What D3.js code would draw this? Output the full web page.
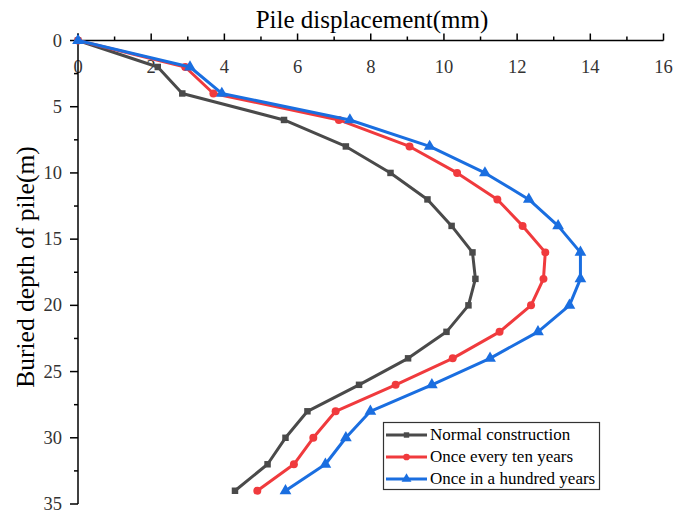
<!DOCTYPE html>
<meta charset="utf-8">
<script src="https://d3js.org/d3.v7.min.js"></script>
<style>
  body { margin: 0; background: #fff; }
  text { font-family: "Liberation Serif", "DejaVu Serif", serif; }
</style>
<body>
<div id="chart"></div>
<script>

// depths (m) and pile displacement (mm) for each case
var depths = [0, 2, 4, 6, 8, 10, 12, 14, 16, 18, 20, 22, 24, 26, 28, 30, 32, 34];
var normalVals = [0, 2.18, 2.85, 5.63, 7.32, 8.54, 9.55, 10.21, 10.78, 10.86, 10.67, 10.07, 9.02, 7.68, 6.27, 5.67, 5.18, 4.29];
var tenYearVals = [0, 2.93, 3.70, 7.13, 9.06, 10.36, 11.46, 12.15, 12.77, 12.72, 12.38, 11.52, 10.24, 8.68, 7.04, 6.43, 5.90, 4.90];
var hundredYearVals = [0, 3.06, 3.93, 7.43, 9.61, 11.12, 12.32, 13.12, 13.73, 13.73, 13.43, 12.57, 11.26, 9.67, 7.99, 7.32, 6.76, 5.67];
var seriesNames = ["Normal construction", "Once every ten years", "Once in a hundred years"];
var xTicks = [0, 2, 4, 6, 8, 10, 12, 14, 16];
var yTicks = [0, 5, 10, 15, 20, 25, 30, 35];

var colors = ["#4a4a4a", "#f03a3d", "#1a6ee0"];
var markers = [d3.symbolSquare, d3.symbolCircle, d3.symbolTriangle];
var markerSize = [42, 50, 60];

var W = 673, H = 513;
var x = d3.scaleLinear().domain([0, 16]).range([78, 663.5]);
var y = d3.scaleLinear().domain([0, 35]).range([40.5, 504]);

var svg = d3.select("#chart").append("svg")
  .attr("width", W).attr("height", H);

// x axis on top, ticks pointing up, labels below the line
var xAxisG = svg.append("g").attr("transform", "translate(0," + y(0) + ")");
xAxisG.append("line").attr("x1", x(0)).attr("x2", x(16))
  .attr("stroke", "#000").attr("stroke-width", 1.5);
xAxisG.selectAll(".xmaj").data(xTicks).enter().append("line")
  .attr("x1", d => x(d)).attr("x2", d => x(d))
  .attr("y1", 0).attr("y2", -7).attr("stroke", "#000").attr("stroke-width", 1.5);
xAxisG.selectAll(".xmin").data(d3.range(1, 16, 2)).enter().append("line")
  .attr("x1", d => x(d)).attr("x2", d => x(d))
  .attr("y1", 0).attr("y2", -4).attr("stroke", "#000").attr("stroke-width", 1.5);
xAxisG.selectAll(".xlab").data(xTicks).enter().append("text")
  .attr("x", d => x(d)).attr("y", 32)
  .attr("text-anchor", "middle")
  .style("font-size", "18.5px").style("fill", "#333")
  .text(d => d);

// y axis, ticks pointing left
var yAxisG = svg.append("g").attr("transform", "translate(" + x(0) + ",0)");
yAxisG.append("line").attr("y1", y(0) - 7).attr("y2", y(35))
  .attr("stroke", "#000").attr("stroke-width", 1.5);
yAxisG.selectAll(".ymaj").data(yTicks).enter().append("line")
  .attr("y1", d => y(d)).attr("y2", d => y(d))
  .attr("x1", 0).attr("x2", -8).attr("stroke", "#000").attr("stroke-width", 1.5);
yAxisG.selectAll(".ymin").data(d3.range(2.5, 35, 5)).enter().append("line")
  .attr("y1", d => y(d)).attr("y2", d => y(d))
  .attr("x1", 0).attr("x2", -4).attr("stroke", "#000").attr("stroke-width", 1.5);
yAxisG.selectAll(".ylab").data(yTicks).enter().append("text")
  .attr("x", -16).attr("y", d => y(d) + 6)
  .attr("text-anchor", "end")
  .style("font-size", "18.5px").style("fill", "#333")
  .text(d => d);

// axis titles
svg.append("text")
  .attr("x", 372).attr("y", 28)
  .attr("text-anchor", "middle")
  .style("font-size", "25px")
  .text("Pile displacement(mm)");

svg.append("text")
  .attr("transform", "translate(34," + 267 + ") rotate(-90)")
  .attr("text-anchor", "middle")
  .style("font-size", "25.5px")
  .text("Buried depth of pile(m)");

// series
var allVals = [normalVals, tenYearVals, hundredYearVals];
var line = d3.line().x(d => x(d[0])).y(d => y(d[1]));

allVals.forEach(function(vals, i) {
  var pts = depths.map((dp, k) => [vals[k], dp]);
  svg.append("path")
    .datum(pts)
    .attr("d", line)
    .attr("fill", "none")
    .attr("stroke", colors[i])
    .attr("stroke-width", 3)
    .attr("stroke-linejoin", "round");
  svg.selectAll(".m" + i).data(pts).enter().append("path")
    .attr("transform", d => "translate(" + x(d[0]) + "," + y(d[1]) + ")")
    .attr("d", d3.symbol().type(markers[i]).size(markerSize[i]))
    .attr("fill", colors[i]);
});

// legend
var lg = svg.append("g");
lg.append("rect")
  .attr("x", 383.5).attr("y", 422.5)
  .attr("width", 216).attr("height", 67)
  .attr("fill", "#fff").attr("stroke", "#333").attr("stroke-width", 1.2);
seriesNames.forEach(function(name, i) {
  var ly = 435 + i * 22;
  lg.append("line")
    .attr("x1", 386).attr("x2", 427)
    .attr("y1", ly).attr("y2", ly)
    .attr("stroke", colors[i]).attr("stroke-width", 3);
  lg.append("path")
    .attr("transform", "translate(406.5," + ly + ")")
    .attr("d", d3.symbol().type(markers[i]).size(markerSize[i] * 0.7))
    .attr("fill", colors[i]);
  lg.append("text")
    .attr("x", 430).attr("y", ly + 5)
    .style("font-size", "17px")
    .text(name);
});

</script>
</body>
